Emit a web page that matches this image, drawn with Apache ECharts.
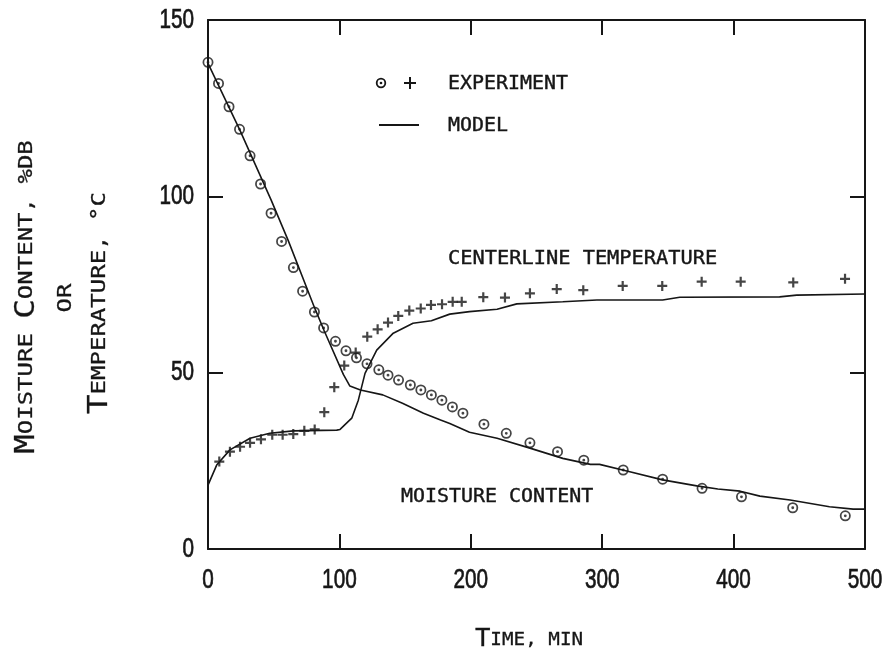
<!DOCTYPE html>
<html>
<head>
<meta charset="utf-8">
<script src="https://cdn.jsdelivr.net/npm/echarts@6/dist/echarts.min.js"></script>
<style>
  html, body { margin: 0; padding: 0; background: #fff; }
  #chart { width: 890px; height: 654px; }
</style>
</head>
<body>
<div id="chart"></div>
<script>
// Drying run: moisture content (%db) and centerline temperature (°C) vs time (min)

// Experimental moisture content (circles)
const moistureTime = [0, 8, 16, 24, 32, 40, 48, 56, 65, 72, 81, 88, 97, 105, 113, 121, 130, 137, 145, 154, 162, 170, 178, 186, 194, 210, 227, 245, 266, 286, 316, 346, 376, 406, 445, 485];
const moistureExp  = [138.0, 132.0, 125.4, 119.0, 111.5, 103.5, 95.2, 87.2, 79.8, 73.1, 67.2, 62.7, 58.9, 56.2, 54.2, 52.5, 50.8, 49.3, 47.9, 46.5, 45.1, 43.7, 42.2, 40.3, 38.5, 35.4, 32.8, 30.1, 27.6, 25.2, 22.4, 19.8, 17.2, 14.8, 11.7, 9.4];

// Experimental centerline temperature (crosses)
const tempTime = [8.6, 16.7, 24.4, 32, 40.3, 48.9, 56.8, 64.9, 73.3, 81.2, 88.5, 96.1, 103.7, 112.4, 121.2, 129.1, 137, 144.8, 153.2, 161.9, 169.7, 178.1, 186.2, 193.1, 209.5, 226, 245, 265.4, 285.6, 315.6, 345.7, 375.7, 405.4, 445.4, 484.8];
const tempExp  = [24.8, 27.6, 29.0, 30.1, 31.1, 32.4, 32.4, 32.6, 33.5, 33.9, 38.8, 45.9, 52.0, 55.7, 60.2, 62.3, 64.2, 66.1, 67.6, 68.2, 69.2, 69.4, 70.1, 70.1, 71.4, 71.3, 72.5, 73.7, 73.4, 74.6, 74.6, 75.8, 75.8, 75.6, 76.6];

// Model curves
const modelMoistureTime = [0, 24, 48, 61, 81, 88.5, 103, 108, 116, 133, 148, 164, 177, 184, 199, 220, 245, 270, 291, 298, 321, 346, 372, 388, 405, 420, 443, 473, 491, 500];
const modelMoisture     = [137.7, 119.0, 99.0, 87.5, 68.5, 61.8, 49.5, 46.2, 45.1, 43.7, 41.3, 38.5, 36.6, 35.6, 33.1, 31.4, 28.6, 25.7, 24.0, 24.0, 21.9, 19.6, 17.9, 17.0, 16.4, 15.0, 13.9, 12.0, 11.3, 11.3];

const modelTempTime = [0, 6.6, 16.7, 32, 47, 65, 98, 100.5, 109.4, 114.4, 119.5, 128.4, 141, 156, 170, 184, 199, 220, 235, 270, 296, 346, 359, 435, 448, 500];
const modelTemp     = [18.1, 23.8, 28.1, 31.4, 32.8, 33.5, 33.7, 33.9, 37.1, 42.2, 49.8, 56.4, 61.2, 64.0, 64.7, 66.6, 67.3, 68.0, 69.5, 70.1, 70.6, 70.6, 71.4, 71.5, 72.0, 72.3];

// Tick labels
const xTickValues = [0, 100, 200, 300, 400, 500];
const yTickValues = [0, 50, 100, 150];

const ink = '#161616';
const mono = "'DejaVu Sans Mono', 'Liberation Mono', monospace";
const digitFont = "'Liberation Sans', Arial, sans-serif";

const pairs = (xs, ys) => xs.map((x, i) => [x, ys[i]]);

// ring with a centre dot, and a plus sign
const ringSymbol = 'path://M0,-10A10,10 0 1,1 0,10A10,10 0 1,1 0,-10Z M0,-6.8A6.8,6.8 0 1,0 0,6.8A6.8,6.8 0 1,0 0,-6.8Z M0,-2.6A2.6,2.6 0 1,1 0,2.6A2.6,2.6 0 1,1 0,-2.6Z';
const plusSymbol = 'path://M-1.1,-5H1.1V-1.1H5V1.1H1.1V5H-1.1V1.1H-5V-1.1H-1.1Z';

const boxLine = { lineStyle: { color: ink, width: 2 } };
const innerTick = { show: true, inside: true, length: 15, lineStyle: { color: ink, width: 2 } };

function axisDef(pos, ticks) {
  return {
    type: 'value', position: pos,
    min: ticks[0], max: ticks[ticks.length - 1], interval: ticks[1] - ticks[0],
    axisLine: Object.assign({ show: true, onZero: false }, boxLine),
    axisTick: innerTick,
    splitLine: { show: false },
    axisLabel: { show: false }
  };
}

const smallCaps = {
  b: { fontFamily: mono, fontSize: 27, fill: ink, stroke: ink, lineWidth: 0.3 },
  s: { fontFamily: mono, fontSize: 20, fill: ink, stroke: ink, lineWidth: 0.3 }
};

function plotText(id, x, y, text, size, sx) {
  return {
    id: id, type: 'text', x: x, y: y, scaleX: sx || 1,
    style: { text: text, fontFamily: mono, fontSize: size, fill: ink, stroke: ink, lineWidth: 0.4,
             align: 'left', verticalAlign: 'middle', textAlign: 'left', textVerticalAlign: 'middle' }
  };
}

const baseGraphics = [
  // key
  { id: 'keyRing', type: 'circle', shape: { cx: 381, cy: 83, r: 4.3 }, style: { fill: 'none', stroke: ink, lineWidth: 1.8 } },
  { id: 'keyDot', type: 'circle', shape: { cx: 381, cy: 83, r: 1.3 }, style: { fill: ink } },
  { id: 'keyPlusH', type: 'line', shape: { x1: 404, y1: 83, x2: 416, y2: 83 }, style: { stroke: ink, lineWidth: 2 } },
  { id: 'keyPlusV', type: 'line', shape: { x1: 410, y1: 77, x2: 410, y2: 89 }, style: { stroke: ink, lineWidth: 2 } },
  { id: 'keyLine', type: 'line', shape: { x1: 379, y1: 125, x2: 419, y2: 125 }, style: { stroke: ink, lineWidth: 2 } },
  plotText('keyExp', 448, 84, 'EXPERIMENT', 19, 1.05),
  plotText('keyModel', 448, 126, 'MODEL', 19, 1.05),
  // curve labels
  plotText('lblTemp', 448, 259, 'CENTERLINE TEMPERATURE', 19, 1.07),
  plotText('lblMoist', 401, 497, 'MOISTURE CONTENT', 19, 1.05),
  // axis titles
  {
    id: 'xTitle', type: 'text', x: 529, y: 640, scaleX: 1.07,
    style: { text: '{b|T}{s|IME, MIN}',
             rich: { b: { fontFamily: mono, fontSize: 24, fill: ink, stroke: ink, lineWidth: 0.3 }, s: { fontFamily: mono, fontSize: 18, fill: ink, stroke: ink, lineWidth: 0.3 } },
             align: 'center', verticalAlign: 'middle', textAlign: 'center', textVerticalAlign: 'middle' }
  },
  {
    id: 'yTitle1', type: 'text', x: 27, y: 297, rotation: Math.PI / 2, scaleX: 1.2,
    style: { text: '{b|M}{s|OISTURE }{b|C}{s|ONTENT, %DB}', rich: smallCaps,
             align: 'center', verticalAlign: 'middle', textAlign: 'center', textVerticalAlign: 'middle' }
  },
  {
    id: 'yTitle2', type: 'text', x: 66, y: 298, rotation: Math.PI / 2, scaleX: 1.2,
    style: { text: 'OR', fontFamily: mono, fontSize: 20, fill: ink, stroke: ink, lineWidth: 0.3,
             align: 'center', verticalAlign: 'middle', textAlign: 'center', textVerticalAlign: 'middle' }
  },
  {
    id: 'yTitle3', type: 'text', x: 100, y: 303, rotation: Math.PI / 2, scaleX: 1.2,
    style: { text: '{b|T}{s|EMPERATURE, °C}', rich: smallCaps,
             align: 'center', verticalAlign: 'middle', textAlign: 'center', textVerticalAlign: 'middle' }
  }
];

const option = {
  backgroundColor: '#ffffff',
  animation: false,
  grid: { left: 208, right: 25, top: 20, bottom: 105 },
  xAxis: [axisDef('bottom', xTickValues), axisDef('top', xTickValues)],
  yAxis: [axisDef('left', yTickValues), axisDef('right', yTickValues)],
  series: [
    {
      name: 'MODEL', type: 'line', data: pairs(modelMoistureTime, modelMoisture),
      showSymbol: false, lineStyle: { color: ink, width: 1.6 }, z: 2
    },
    {
      name: 'MODEL', type: 'line', data: pairs(modelTempTime, modelTemp),
      showSymbol: false, lineStyle: { color: ink, width: 1.6 }, z: 2
    },
    {
      name: 'EXPERIMENT', type: 'scatter', data: pairs(moistureTime, moistureExp),
      symbol: ringSymbol, symbolSize: 11, itemStyle: { color: ink }, z: 3
    },
    {
      name: 'EXPERIMENT', type: 'scatter', data: pairs(tempTime, tempExp),
      symbol: plusSymbol, symbolSize: 10, itemStyle: { color: ink }, z: 3
    }
  ],
  graphic: baseGraphics
};

const chart = echarts.init(document.getElementById('chart'), null, { renderer: 'canvas' });
chart.setOption(option);

// Tall, narrow tick numerals placed at the axis scale positions
function tickText(id, x, y, value, align) {
  return {
    id: id, type: 'text', x: x, y: y, scaleX: 0.74,
    style: { text: String(value), fontFamily: digitFont, fontSize: 28, fill: ink, stroke: ink, lineWidth: 0.7,
             align: align, verticalAlign: 'middle', textAlign: align, textVerticalAlign: 'middle' }
  };
}
const tickLabels = [];
xTickValues.forEach((v, i) => {
  const px = chart.convertToPixel({ xAxisIndex: 0 }, v);
  tickLabels.push(tickText('xt' + i, px, 580, v, 'center'));
});
yTickValues.forEach((v, i) => {
  const py = chart.convertToPixel({ yAxisIndex: 0 }, v);
  tickLabels.push(tickText('yt' + i, 194, py, v, 'right'));
});
chart.setOption({ graphic: tickLabels });
</script>
</body>
</html>
